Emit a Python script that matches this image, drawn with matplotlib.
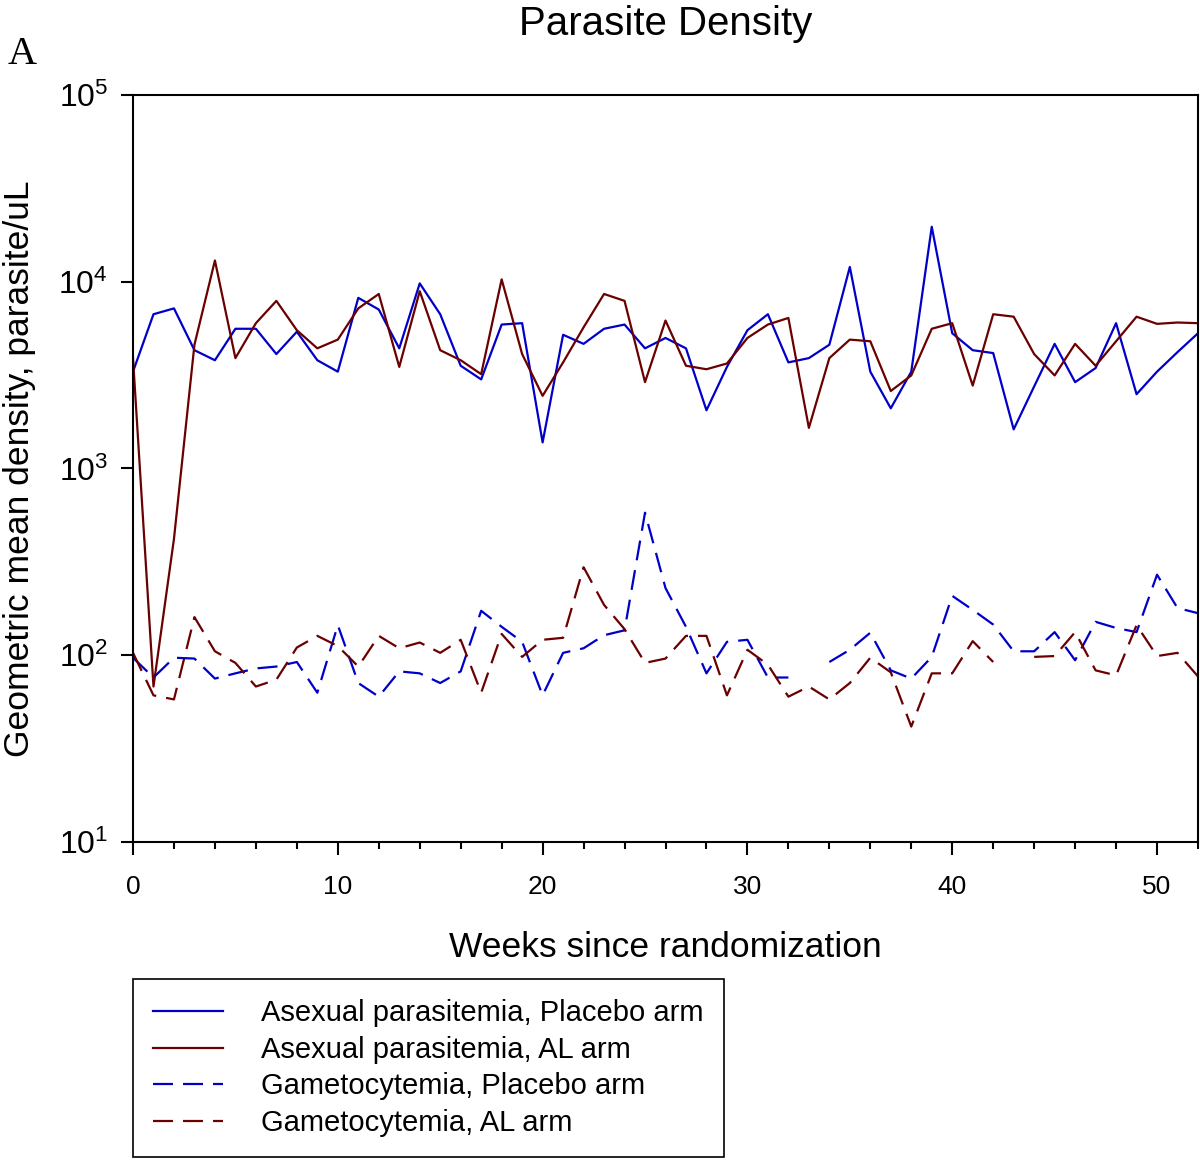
import numpy as np
import matplotlib
matplotlib.use("Agg")
from matplotlib import pyplot as plt
from matplotlib.ticker import MultipleLocator, LogLocator, NullLocator

# fonts (Helvetica-like sans, serif panel letter)
plt.rcParams['font.family'] = ['Liberation Sans', 'DejaVu Sans']
plt.rcParams['mathtext.fontset'] = 'custom'
plt.rcParams['mathtext.rm'] = 'Liberation Sans'
plt.rcParams['mathtext.it'] = 'Liberation Sans:italic'
plt.rcParams['mathtext.bf'] = 'Liberation Sans:bold'

# data (weeks 0..52)
weeks = list(range(53))
asex_placebo = [3300, 6700, 7200, 4300, 3800, 5600, 5600, 4100, 5400, 3800,
                3300, 8200, 7100, 4400, 9800, 6700, 3550, 3000, 5900, 6000,
                1380, 5200, 4650, 5600, 5900, 4400, 5000, 4400, 2050, 3500,
                5500, 6700, 3700, 3900, 4600, 12000, 3300, 2100, 3300, 19700,
                5300, 4300, 4150, 1620, 2750, 4650, 2900, 3450, 6000, 2500,
                3300, 4200, 5300]
asex_al = [3900, 68, 420, 4600, 13000, 3900, 6000, 7900, 5500, 4400,
           4900, 7200, 8600, 3500, 8900, 4300, 3800, 3200, 10300, 4100,
           2450, 3700, 5700, 8600, 7900, 2900, 6200, 3550, 3400, 3650,
           5000, 5900, 6400, 1650, 3900, 4900, 4800, 2600, 3150, 5600,
           6000, 2780, 6700, 6500, 4100, 3150, 4650, 3550, 4800, 6500,
           5950, 6050, 6000]
gam_placebo = [97, 76, 97, 96, 75, 80, 85, 87, 92, 63,
               145, 71, 60, 82, 80, 71, 82, 173, 142, 118,
               61, 103, 109, 128, 136, 580, 229, 142, 80, 118,
               121, 76, 76, np.nan, 92, 107, 132, 83, 75, 98,
               208, 175, 146, 105, 105, 133, 94, 151, 140, 133,
               270, 179, 168]
gam_al = [103, 61, 58, 160, 105, 91, 68, 74, 110, 127,
          112, 87, 127, 109, 117, 103, 121, 63, 130, 98,
          121, 124, 296, 186, 138, 91, 96, 127, 127, 61,
          107, 89, 60, 68, 58, 71, 97, 81, 41.5, 80,
          80, 119, 92, np.nan, 98, 99, 133, 83, 78, 145,
          99, 103, 77]

blue = '#0000c8'
dred = '#6b0000'

fig = plt.figure(figsize=(12, 11.63), dpi=100)
ax = fig.add_axes([133/1200, 1-842/1163, (1198-133)/1200, (842-95)/1163])

dash = (9, 4.5)
ax.plot(weeks, asex_placebo, color=blue, lw=1.6, label='Asexual parasitemia, Placebo arm')
ax.plot(weeks, asex_al, color=dred, lw=1.6, label='Asexual parasitemia, AL arm')
ax.plot(weeks, gam_placebo, color=blue, lw=1.6, dashes=dash, label='Gametocytemia, Placebo arm')
ax.plot(weeks, gam_al, color=dred, lw=1.6, dashes=dash, label='Gametocytemia, AL arm')

ax.set_yscale('log')
ax.set_ylim(10, 1e5)
ax.set_xlim(0, 52)
ax.xaxis.set_major_locator(MultipleLocator(10))
ax.xaxis.set_minor_locator(MultipleLocator(2))
ax.yaxis.set_major_locator(LogLocator(base=10, numticks=10))
ax.yaxis.set_minor_locator(NullLocator())

for s in ax.spines.values():
    s.set_linewidth(1.5)
ax.tick_params(axis='both', which='major', direction='out', length=9, width=1.5)
ax.tick_params(axis='x', which='major', labelsize=19, pad=15)
ax.tick_params(axis='y', which='major', labelsize=23, pad=9)
ax.tick_params(axis='x', which='minor', direction='out', length=5, width=1.5)

ax.set_xlabel('Weeks since randomization', fontsize=25.5, labelpad=23)
ax.set_ylabel('Geometric mean density, parasite/uL', fontsize=25.5, labelpad=16)
ax.set_title('Parasite Density', fontsize=29, pad=43)

fig.text(22/1200, 1-55/1163, 'A', family=['Liberation Serif', 'DejaVu Serif'],
         fontsize=29, ha='center', va='center')

leg = fig.legend(loc='upper left', bbox_to_anchor=(133/1200, 1-979/1163),
                 bbox_transform=fig.transFigure, borderaxespad=0,
                 fontsize=21, frameon=True, fancybox=False, framealpha=1,
                 edgecolor='black', handlelength=2.4, handletextpad=1.3,
                 labelspacing=0.29, borderpad=0.7)
leg.get_frame().set_linewidth(1.2)

fig.savefig('out.png', dpi=100)
